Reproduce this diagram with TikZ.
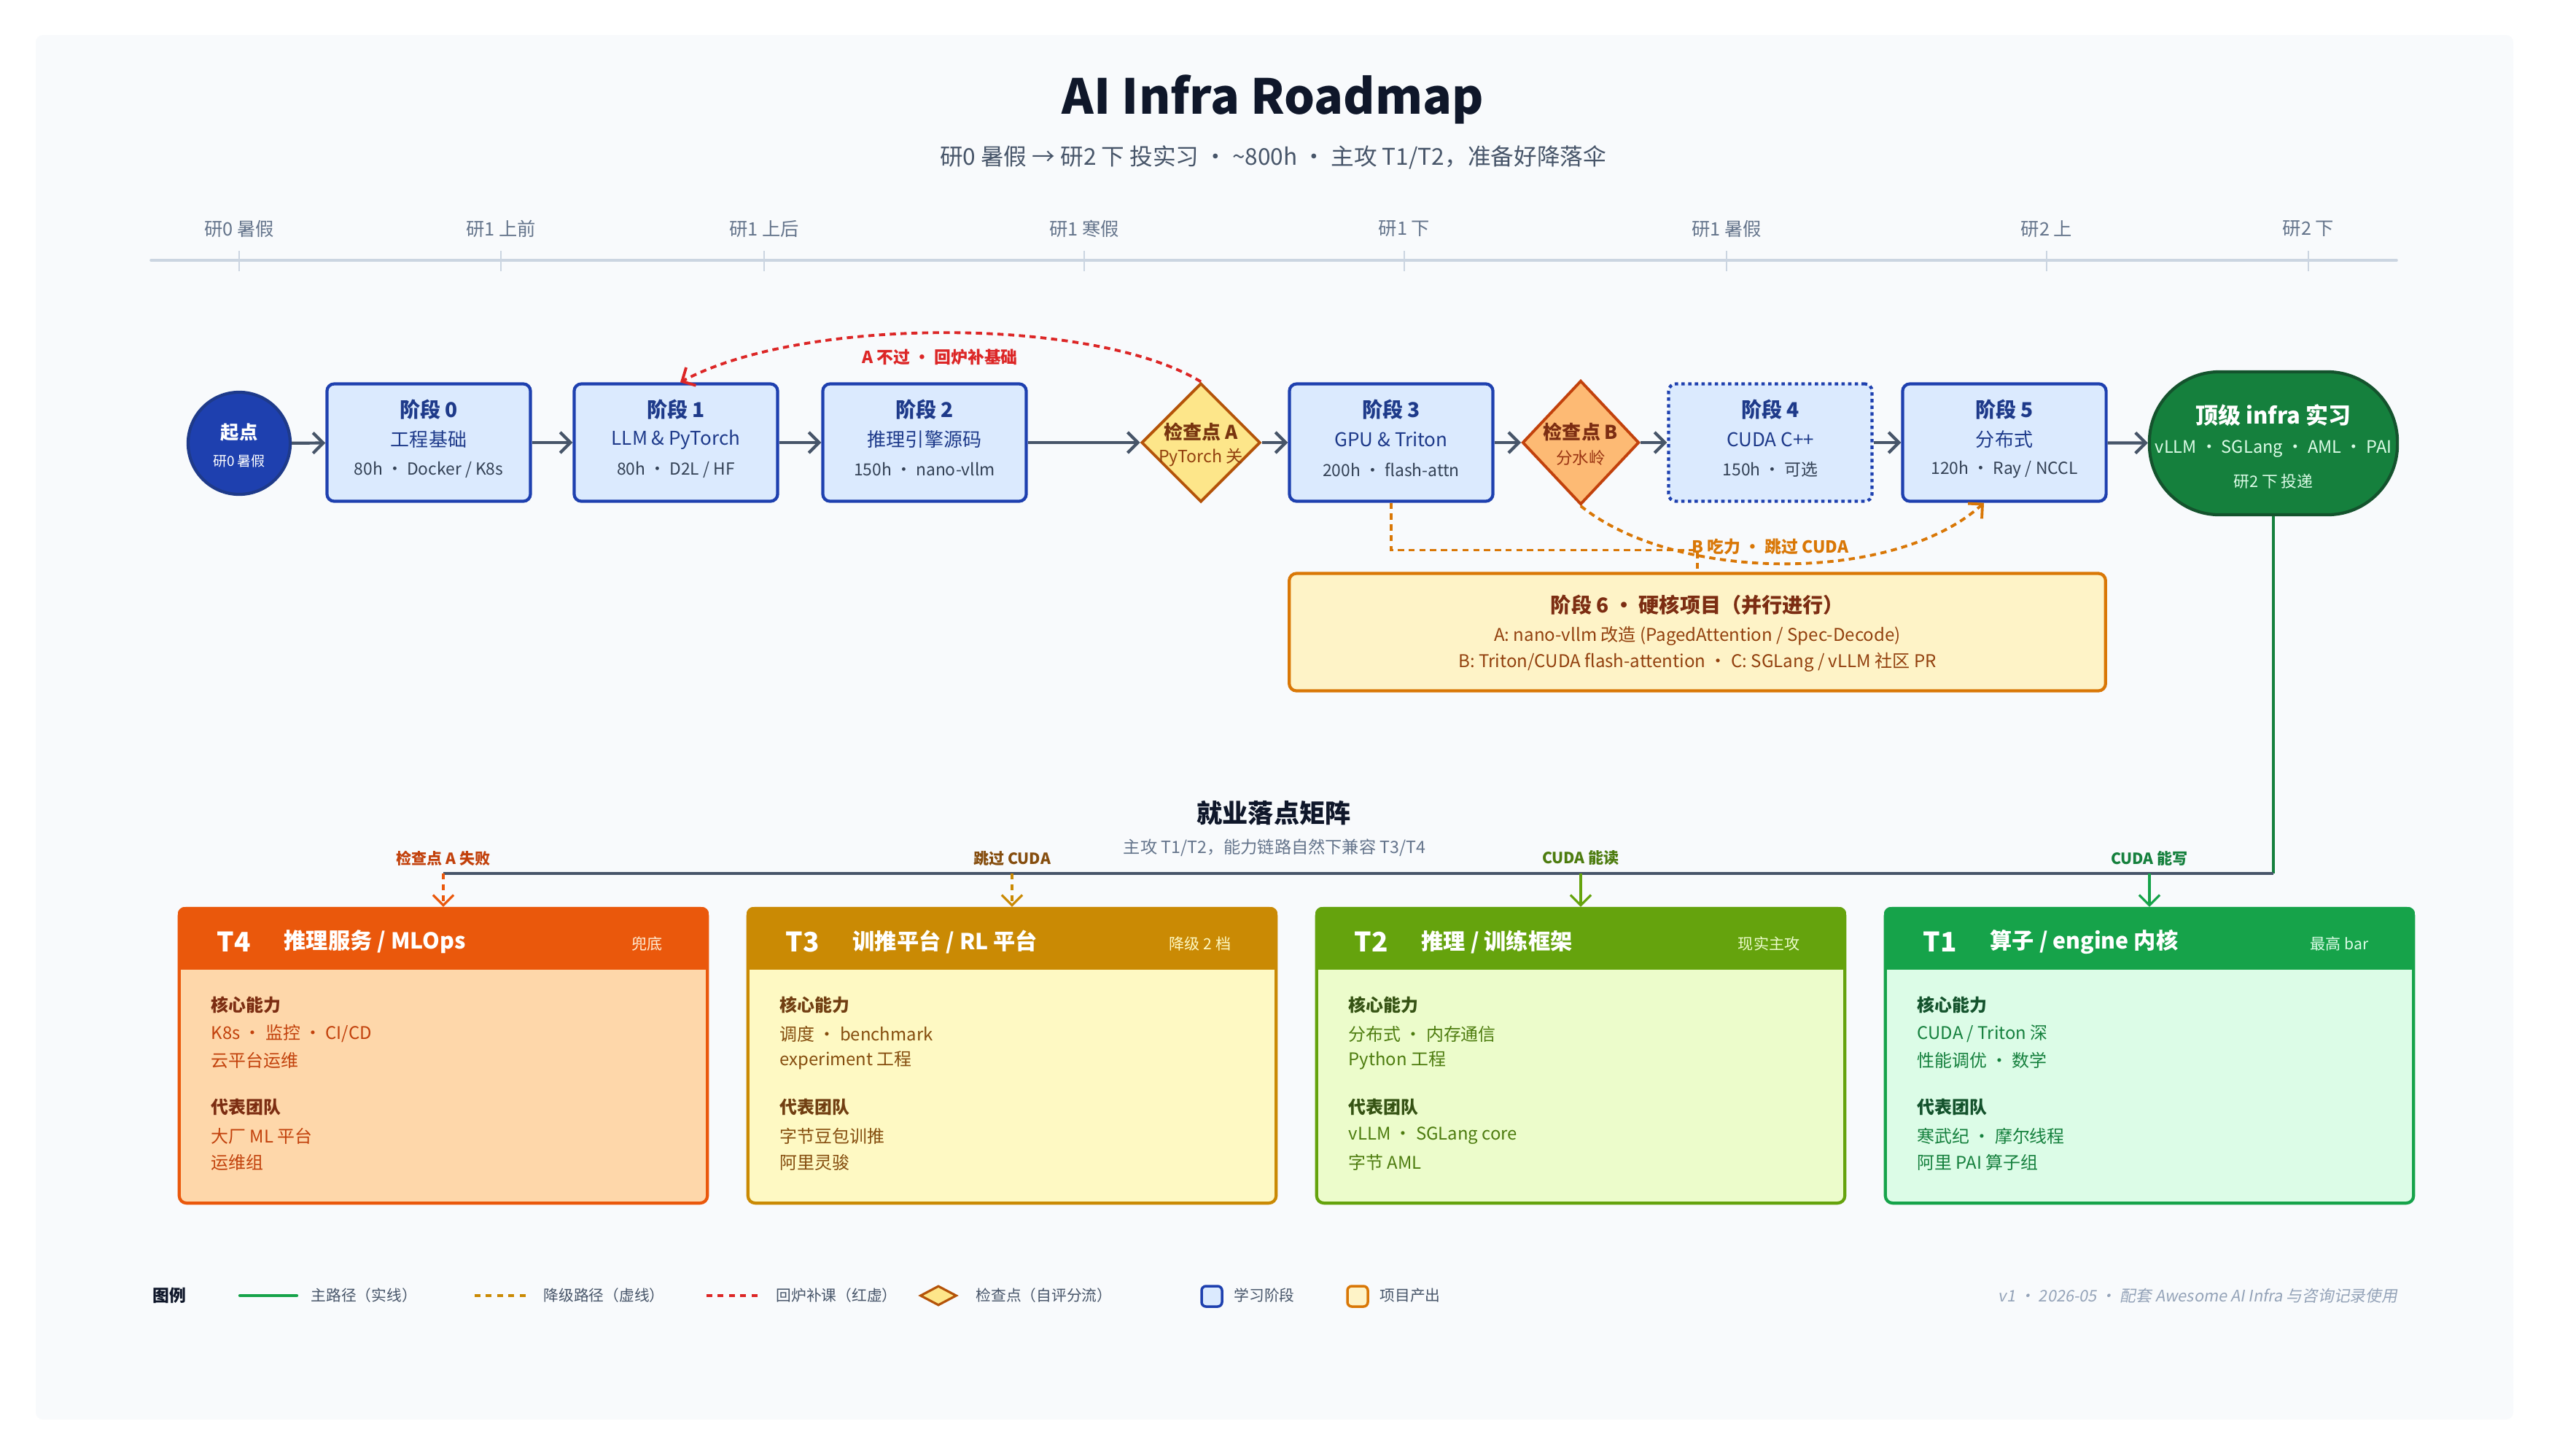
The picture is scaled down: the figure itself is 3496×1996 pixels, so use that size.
\documentclass[tikz,border=0pt]{standalone}
\usepackage{fontspec}
\setmainfont{Noto Sans CJK SC}
\newfontfamily\slantfont{Noto Sans CJK SC}[FakeSlant=0.18]
\usepackage{xcolor}
\usetikzlibrary{positioning,arrows.meta,shapes.geometric,calc}

\definecolor{pagebg}{HTML}{F8FAFC}
\definecolor{ink}{HTML}{0F172A}
\definecolor{slate}{HTML}{475569}
\definecolor{muted}{HTML}{64748B}
\definecolor{axisc}{HTML}{CBD5E1}
\definecolor{footc}{HTML}{94A3B8}
\definecolor{stageline}{HTML}{1E40AF}
\definecolor{stagefill}{HTML}{DBEAFE}
\definecolor{stageink}{HTML}{1E3A8A}
\definecolor{metaink}{HTML}{334155}
\definecolor{gateAfill}{HTML}{FDE68A}
\definecolor{gateAline}{HTML}{B45309}
\definecolor{gateAink}{HTML}{78350F}
\definecolor{gateAsub}{HTML}{92400E}
\definecolor{gateBfill}{HTML}{FDBA74}
\definecolor{gateBline}{HTML}{C2410C}
\definecolor{gateBink}{HTML}{7C2D12}
\definecolor{gateBsub}{HTML}{9A3412}
\definecolor{projfill}{HTML}{FEF3C7}
\definecolor{projline}{HTML}{D97706}
\definecolor{goalfill}{HTML}{15803D}
\definecolor{goalline}{HTML}{14532D}
\definecolor{goalsub}{HTML}{DCFCE7}
\definecolor{backred}{HTML}{DC2626}
\definecolor{t4head}{HTML}{EA580C}
\definecolor{t4body}{HTML}{FED7AA}
\definecolor{t4ink}{HTML}{7C2D12}
\definecolor{t4item}{HTML}{C2410C}
\definecolor{t4tag}{HTML}{FFEDD5}
\definecolor{t3head}{HTML}{CA8A04}
\definecolor{t3body}{HTML}{FEF9C3}
\definecolor{t3ink}{HTML}{713F12}
\definecolor{t3item}{HTML}{854D0E}
\definecolor{t2head}{HTML}{65A30D}
\definecolor{t2body}{HTML}{ECFCCB}
\definecolor{t2ink}{HTML}{365314}
\definecolor{t2item}{HTML}{4D7C0F}
\definecolor{t1head}{HTML}{16A34A}
\definecolor{t1body}{HTML}{DCFCE7}
\definecolor{t1ink}{HTML}{14532D}
\definecolor{t1item}{HTML}{15803D}

\newcommand{\fsz}[1]{\fontsize{#1}{#1}\selectfont}
% three text lines of a stage box
\newcommand{\stagelines}[4]{%
  \node[stitle] (#1-t) at ($(#1)+(0,-45)$) {#2};
  \node[ssub] (#1-s) at ($(#1)+(0,-4)$) {#3};
  \node[smeta] (#1-m) at ($(#1)+(0,37)$) {#4};}

\begin{document}
\begin{tikzpicture}[x=0.01cm, y=-0.01cm,
  stagebox/.style={rectangle, rounded corners=0.1cm, draw=stageline, fill=stagefill, line width=1.2pt, minimum width=2.79cm, minimum height=1.61cm, inner sep=0pt},
  stitle/.style={inner sep=0pt, text=stageink, font=\bfseries\fsz{8}},
  ssub/.style={inner sep=0pt, text=stageink, font=\fsz{7.4}},
  smeta/.style={inner sep=0pt, text=metaink, font=\fsz{6.5}},
  gate/.style={diamond, line width=1.1pt, minimum width=1.63cm, minimum height=1.63cm, inner sep=0pt},
  flow/.style={-{Straight Barb[length=4pt,width=8pt]}, line width=1.2pt, draw=slate},
  dashy/.style={dash pattern=on 2.4pt off 1.8pt},
  tiercard/.style={rectangle, rounded corners=0.1cm, line width=1.2pt, minimum width=7.24cm, minimum height=4.04cm, inner sep=0pt},
  tname/.style={anchor=west, inner sep=0pt, text=white, font=\bfseries\fsz{10.5}},
  ttitle/.style={anchor=west, inner sep=0pt, text=white, font=\bfseries\fsz{8.6}},
  ttag/.style={anchor=east, inner sep=0pt, font=\fsz{6}},
  thead/.style={anchor=west, inner sep=0pt, font=\bfseries\fsz{6.8}},
  titem/.style={anchor=west, inner sep=0pt, font=\fsz{6.8}},
  drop/.style={-{Straight Barb[length=4pt,width=8pt]}, line width=0.9pt},
  droplabel/.style={inner sep=0pt, font=\bfseries\fsz{6}},
  legtext/.style={anchor=west, inner sep=0pt, text=slate, font=\fsz{5.9}}
]
% page
\fill[white] (0,0) rectangle (3496,1996);
\fill[pagebg, rounded corners=0.1cm] (49,48) rectangle (3447,1947);
\useasboundingbox (0,0) rectangle (3496,1996);

% title
\node[inner sep=0pt, text=ink, font=\bfseries\fsz{18.8}] (title) at (1746,136) {AI Infra Roadmap};
\node[inner sep=0pt, text=slate, font=\fsz{9}] (subtitle) at (1746,216) {研0 暑假 → 研2 下 投实习 ・ \textasciitilde800h ・ 主攻 T1/T2，准备好降落伞};

% timeline
\draw[axisc, line width=1pt, line cap=round] (207,357) -- (3287,357);
\foreach \x/\lab in {328/研0 暑假, 687/研1 上前, 1048/研1 上后, 1487/研1 寒假, 1926/研1 下, 2368/研1 暑假, 2807/研2 上, 3166/研2 下} {
  \draw[axisc, line width=0.4pt] (\x,344) -- (\x,372);
  \node[inner sep=0pt, text=muted, font=\fsz{7.2}] (tl-\x) at (\x,314) {\lab};
}

% main path
\node[circle, draw=stageink, fill=stageline, line width=1.2pt, minimum size=1.4cm, inner sep=0pt] (start) at (328,608) {};
\node[inner sep=0pt, text=white, font=\bfseries\fsz{7.2}] (start-t) at (328,593) {起点};
\node[inner sep=0pt, text=white, font=\fsz{5.4}] (start-s) at (328,632) {研0 暑假};

\node[stagebox] (s0) at (588,607) {};
\stagelines{s0}{阶段 0}{工程基础}{80h ・ Docker / K8s}
\node[stagebox] (s1) at (927,607) {};
\stagelines{s1}{阶段 1}{LLM \& PyTorch}{80h ・ D2L / HF}
\node[stagebox] (s2) at (1268,607) {};
\stagelines{s2}{阶段 2}{推理引擎源码}{150h ・ nano-vllm}

\node[gate, draw=gateAline, fill=gateAfill] (ckA) at (1647,607) {};
\node[inner sep=0pt, text=gateAink, font=\bfseries\fsz{7.4}] (ckA-t) at (1647,592) {检查点 A};
\node[inner sep=0pt, text=gateAsub, font=\fsz{6.6}] (ckA-s) at (1647,628) {PyTorch 关};

\node[stagebox] (s3) at (1908,607) {};
\stagelines{s3}{阶段 3}{GPU \& Triton}{200h ・ flash-attn}

\node[gate, draw=gateBline, fill=gateBfill, minimum width=1.6cm, minimum height=1.7cm] (ckB) at (2168,607) {};
\node[inner sep=0pt, text=gateBink, font=\bfseries\fsz{7.4}] (ckB-t) at (2168,592) {检查点 B};
\node[inner sep=0pt, text=gateBsub, font=\fsz{6.4}] (ckB-s) at (2168,628) {分水岭};

\node[stagebox, dash pattern=on 1.3pt off 1.3pt] (s4) at (2428,607) {};
\stagelines{s4}{阶段 4}{CUDA C++}{150h ・ 可选}
\node[stagebox] (s5) at (2749,607) {};
\stagelines{s5}{阶段 5}{分布式}{120h ・ Ray / NCCL}

\node[rectangle, rounded corners=0.96cm, draw=goalline, fill=goalfill, line width=1.2pt, minimum width=3.4cm, minimum height=1.96cm, inner sep=0pt] (goal) at (3118,608) {};
\node[inner sep=0pt, text=white, font=\bfseries\fsz{8.8}] (goal-t) at (3118,570) {顶级 infra 实习};
\node[inner sep=0pt, text=goalsub, font=\fsz{6.7}] (goal-s) at (3118,616) {vLLM ・ SGLang ・ AML ・ PAI};
\node[inner sep=0pt, text=goalsub, font=\fsz{6.2}] (goal-m) at (3118,660) {研2 下 投递};

\draw[flow] (start) -- (s0);
\draw[flow] (s0) -- (s1);
\draw[flow] (s1) -- (s2);
\draw[flow] (s2) -- (ckA);
\draw[flow] (ckA) -- (s3);
\draw[flow] (s3) -- (ckB);
\draw[flow] (ckB) -- (s4);
\draw[flow] (s4) -- (s5);
\draw[flow] (s5) -- (goal);

% fall-back and skip loops
\draw[backred, dashy, line width=1.1pt, -{Straight Barb[length=4pt,width=8pt]}] (ckA.north) .. controls (1500,434) and (1100,434) .. ($(s1.north)+(6,0)$);
\node[inner sep=0pt, text=backred, font=\bfseries\fsz{6.5}] (backlab) at (1289,490) {A 不过 ・ 回炉补基础};
\draw[projline, dashy, line width=1.1pt, -{Straight Barb[length=4pt,width=8pt]}] (ckB.south) .. controls (2300,800) and (2600,800) .. ($(s5.south)+(-28,0)$);
\node[inner sep=0pt, text=projline, font=\bfseries\fsz{6.5}] (skiplab) at (2428,750) {B 吃力 ・ 跳过 CUDA};

% stage 6
\node[rectangle, rounded corners=0.1cm, draw=projline, fill=projfill, line width=1.2pt, minimum width=11.19cm, minimum height=1.61cm, inner sep=0pt] (s6) at (2328,867) {};
\node[inner sep=0pt, text=gateBink, font=\bfseries\fsz{8}] (s6-t) at (2328,830) {阶段 6 ・ 硬核项目（并行进行）};
\node[inner sep=0pt, text=gateAsub, font=\fsz{6.85}] (s6-a) at (2328,872) {A: nano-vllm 改造 (PagedAttention / Spec-Decode)};
\node[inner sep=0pt, text=gateAsub, font=\fsz{6.85}] (s6-b) at (2328,908) {B: Triton/CUDA flash-attention ・ C: SGLang / vLLM 社区 PR};
\draw[projline, dashy, line width=1pt] (s3.south) |- ($(s6.north)+(0,-30)$) -- (s6.north);

% job matrix
\node[inner sep=0pt, text=ink, font=\bfseries\fsz{10}] (mx-t) at (1747,1115) {就业落点矩阵};
\node[inner sep=0pt, text=muted, font=\fsz{6.6}] (mx-s) at (1748,1163) {主攻 T1/T2，能力链路自然下兼容 T3/T4};

\foreach \n/\x/\hc/\bc in {t4/608/t4head/t4body, t3/1388/t3head/t3body, t2/2168/t2head/t2body, t1/2948/t1head/t1body} {
  \node[tiercard, draw=\hc, fill=\bc] (\n) at (\x,1448) {};
  \begin{scope}
    \clip[rounded corners=0.1cm] (\n.south west) rectangle (\n.north east);
    \fill[\hc] (\n.north west) rectangle ($(\n.north east)+(0,86)$);
  \end{scope}
}

\coordinate (bus-w) at (608,1198);
\coordinate (bus-e) at (3118,1198);
\draw[goalfill, line width=1.2pt] (goal.south) -- (bus-e);
\draw[slate, line width=1pt] (bus-e) -- (bus-w);
\draw[drop, t4head, dashy] (bus-w) -- (t4.north);
\draw[drop, t3head, dashy] (t3.north |- bus-w) -- (t3.north);
\draw[drop, t2head] (t2.north |- bus-w) -- (t2.north);
\draw[drop, t1head] (t1.north |- bus-w) -- (t1.north);
\node[droplabel, text=t4item] (d4) at (608,1177) {检查点 A 失败};
\node[droplabel, text=t3item] (d3) at (1388,1177) {跳过 CUDA};
\node[droplabel, text=t2item] (d2) at (2168,1177) {CUDA 能读};
\node[droplabel, text=t1item] (d1) at (2948,1177) {CUDA 能写};

% T4
\node[tname] (t4-n) at (297,1292) {T4};
\node[ttitle] (t4-h) at (389,1292) {推理服务 / MLOps};
\node[ttag, text=t4tag] (t4-g) at (909,1294) {兜底};
\node[thead, text=t4ink] (t4-a) at (289,1378) {核心能力};
\node[titem, text=t4item] (t4-a1) at (289,1418) {K8s ・ 监控 ・ CI/CD};
\node[titem, text=t4item] (t4-a2) at (289,1454) {云平台运维};
\node[thead, text=t4ink] (t4-b) at (289,1518) {代表团队};
\node[titem, text=t4item] (t4-b1) at (289,1558) {大厂 ML 平台};
\node[titem, text=t4item] (t4-b2) at (289,1594) {运维组};

% T3
\node[tname] (t3-n) at (1077,1292) {T3};
\node[ttitle] (t3-h) at (1169,1292) {训推平台 / RL 平台};
\node[ttag, text=t3body] (t3-g) at (1689,1294) {降级 2 档};
\node[thead, text=t3ink] (t3-a) at (1069,1378) {核心能力};
\node[titem, text=t3item] (t3-a1) at (1069,1418) {调度 ・ benchmark};
\node[titem, text=t3item] (t3-a2) at (1069,1454) {experiment 工程};
\node[thead, text=t3ink] (t3-b) at (1069,1518) {代表团队};
\node[titem, text=t3item] (t3-b1) at (1069,1558) {字节豆包训推};
\node[titem, text=t3item] (t3-b2) at (1069,1594) {阿里灵骏};

% T2
\node[tname] (t2-n) at (1857,1292) {T2};
\node[ttitle] (t2-h) at (1949,1292) {推理 / 训练框架};
\node[ttag, text=t2body] (t2-g) at (2469,1294) {现实主攻};
\node[thead, text=t2ink] (t2-a) at (1849,1378) {核心能力};
\node[titem, text=t2item] (t2-a1) at (1849,1418) {分布式 ・ 内存通信};
\node[titem, text=t2item] (t2-a2) at (1849,1454) {Python 工程};
\node[thead, text=t2ink] (t2-b) at (1849,1518) {代表团队};
\node[titem, text=t2item] (t2-b1) at (1849,1558) {vLLM ・ SGLang core};
\node[titem, text=t2item] (t2-b2) at (1849,1594) {字节 AML};

% T1
\node[tname] (t1-n) at (2637,1292) {T1};
\node[ttitle] (t1-h) at (2729,1292) {算子 / engine 内核};
\node[ttag, text=t1body] (t1-g) at (3249,1294) {最高 bar};
\node[thead, text=t1ink] (t1-a) at (2629,1378) {核心能力};
\node[titem, text=t1item] (t1-a1) at (2629,1418) {CUDA / Triton 深};
\node[titem, text=t1item] (t1-a2) at (2629,1454) {性能调优 ・ 数学};
\node[thead, text=t1ink] (t1-b) at (2629,1518) {代表团队};
\node[titem, text=t1item] (t1-b1) at (2629,1558) {寒武纪 ・ 摩尔线程};
\node[titem, text=t1item] (t1-b2) at (2629,1594) {阿里 PAI 算子组};

% legend
\node[anchor=west, inner sep=0pt, text=ink, font=\bfseries\fsz{6.5}] (leg) at (209,1777) {图例};
\draw[t1head, line width=1.2pt, line cap=round] (329,1777) -- (407,1777);
\node[legtext] (leg-main) at (426,1777) {主路径（实线）};
\draw[t3head, line width=1.2pt, dash pattern=on 2.2pt off 2.2pt] (651,1777) -- (724,1777);
\node[legtext] (leg-fall) at (745,1777) {降级路径（虚线）};
\draw[backred, line width=1.2pt, dash pattern=on 2.2pt off 2.2pt] (969,1777) -- (1043,1777);
\node[legtext] (leg-back) at (1064,1777) {回炉补课（红虚）};
\node[diamond, draw=gateAline, fill=gateAfill, line width=0.9pt, minimum width=0.5cm, minimum height=0.27cm, inner sep=0pt] (leg-gate) at (1287,1777) {};
\node[legtext] (leg-ck) at (1338,1777) {检查点（自评分流）};
\node[rectangle, rounded corners=0.06cm, draw=stageline, fill=stagefill, line width=1pt, minimum size=0.28cm, inner sep=0pt] (leg-st) at (1662,1778) {};
\node[legtext] (leg-stt) at (1692,1777) {学习阶段};
\node[rectangle, rounded corners=0.06cm, draw=projline, fill=projfill, line width=1pt, minimum size=0.28cm, inner sep=0pt] (leg-pj) at (1862,1778) {};
\node[legtext] (leg-pjt) at (1892,1777) {项目产出};
\node[anchor=east, inner sep=0pt, text=footc, font=\slantfont\fsz{6.2}] (foot) at (3289,1777) {v1 ・ 2026-05 ・ 配套 Awesome AI Infra 与咨询记录使用};
\end{tikzpicture}
\end{document}
